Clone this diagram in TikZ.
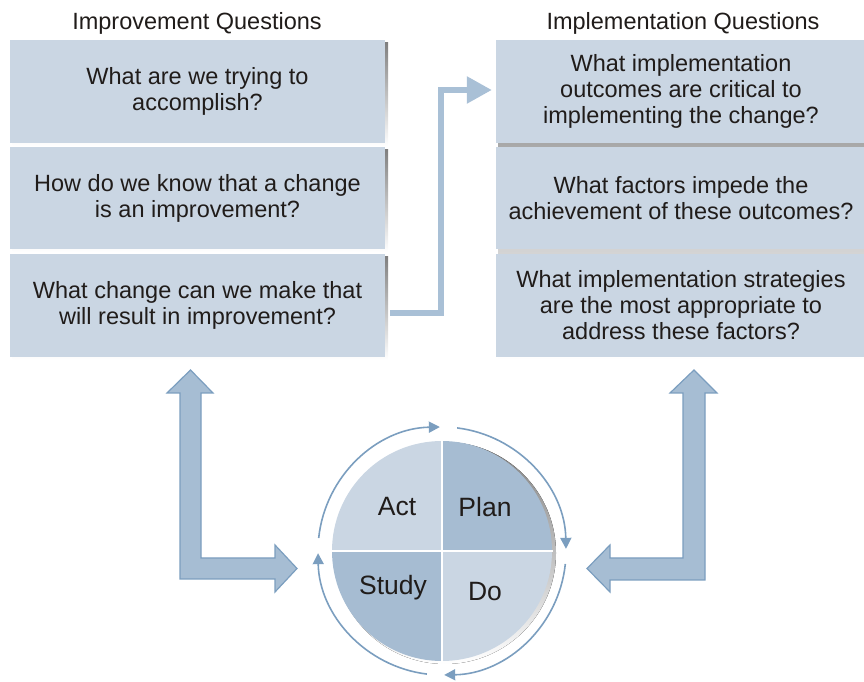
\documentclass[tikz,border=0pt]{standalone}
\usepackage{fontspec}
\setmainfont{Liberation Sans}
\usetikzlibrary{arrows.meta}
\definecolor{boxfill}{HTML}{CAD6E3}
\definecolor{darkfill}{HTML}{A6BCD2}
\definecolor{arrowfill}{HTML}{A6BDD3}
\definecolor{arrowedge}{HTML}{7B9EBF}
\definecolor{linkcol}{HTML}{A9C0D6}
\definecolor{shade}{HTML}{E6E9EE}
\definecolor{ink}{HTML}{201C1A}
\begin{document}
\begin{tikzpicture}[x=1pt,y=1pt,
  qbox/.style={fill=boxfill, minimum height=102pt, inner sep=0pt, align=center,
    text=ink, font=\fontsize{23.5}{26}\selectfont},
  lbox/.style={qbox, minimum width=375pt},
  rbox/.style={qbox, minimum width=370pt},
  title/.style={text=ink, font=\fontsize{23.5}{26}\selectfont},
  phase/.style={text=ink, font=\fontsize{26.5}{28}\selectfont},
  blockarrow/.style={fill=arrowfill, draw=arrowedge, line width=1.2pt, line join=miter},
  link/.style={draw=linkcol, line width=5.5pt, -{Triangle[length=25pt,width=26pt]}},
  cycle arc/.style={draw=arrowedge, line width=1.6pt, -{Triangle[length=11pt,width=11pt]}}]
\useasboundingbox (0,0) rectangle (864,682);

% column headings
\node[title] (ltitle) at (197,659) {Improvement Questions};
\node[title] (rtitle) at (683,659) {Implementation Questions};

% faint drop shadows behind the question boxes
\foreach \yy/\hh in {590.5/103, 484/102, 376.5/103} {
  \fill[shade] (12.5,\yy-\hh/2-2.5) rectangle (388,\yy+\hh/2-2.5);
}
\fill[shade] (498.5,325-2.5) rectangle (866,642-2.5);

% improvement questions
\node[lbox, minimum height=103pt] (L1) at (197.5,590.5) {What are we trying to\\accomplish?};
\node[lbox] (L2) at (197.5,484) {How do we know that a change\\is an improvement?};
\node[lbox, minimum height=103pt] (L3) at (197.5,376.5) {What change can we make that\\will result in improvement?};

% implementation questions
\node[rbox, minimum height=103pt] (R1) at (681,590.5) {What implementation\\outcomes are critical to\\implementing the change?};
\node[rbox] (R2) at (681,484) {What factors impede the\\achievement of these outcomes?};
\node[rbox, minimum height=103pt] (R3) at (681,376.5) {What implementation strategies\\are the most appropriate to\\address these factors?};

% link from the change question to the implementation outcomes
\draw[link] ([xshift=5pt,yshift=-7.5pt]L3.east) -| ([xshift=-55pt,yshift=1.5pt]R1.west)
  -- ([xshift=-4pt,yshift=1.5pt]R1.west);

% PDSA wheel
\coordinate (c) at (442,131);
\fill[shade] (445,129) circle[radius=111];
\fill[boxfill] (c) -- ++(90:110) arc[start angle=90,end angle=180,radius=110] -- cycle;
\fill[darkfill] (c) -- ++(0:110) arc[start angle=0,end angle=90,radius=110] -- cycle;
\fill[darkfill] (c) -- ++(180:110) arc[start angle=180,end angle=270,radius=110] -- cycle;
\fill[boxfill] (c) -- ++(270:110) arc[start angle=270,end angle=360,radius=110] -- cycle;
\draw[white, line width=2pt] ([xshift=-111pt]c) -- ([xshift=111pt]c);
\draw[white, line width=2pt] ([yshift=-111pt]c) -- ([yshift=111pt]c);

\node[phase] (act) at (397,175) {Act};
\node[phase] (plan) at (485,175) {Plan};
\node[phase] (study) at (393,94) {Study};
\node[phase] (do) at (485,90) {Do};

% clockwise cycle arrows around the wheel
\draw[cycle arc] (c) ++(174:124) arc[start angle=174,end angle=91,radius=124];
\draw[cycle arc] (c) ++(83:124) arc[start angle=83,end angle=1,radius=124];
\draw[cycle arc] (c) ++(-6:124) arc[start angle=-6,end angle=-89,radius=124];
\draw[cycle arc] (c) ++(-97:124) arc[start angle=-97,end angle=-179,radius=124];

% block arrows joining the question sets with the wheel
\draw[blockarrow] (190.5,312) -- (213,289) -- (201,289) -- (201,124) -- (275,124)
  -- (275,137) -- (297,113.5) -- (275,90) -- (275,103) -- (180,103) -- (180,289)
  -- (167,289) -- cycle;
\draw[blockarrow] (694,312) -- (717,289) -- (705,289) -- (705,102) -- (610,102)
  -- (610,90) -- (587,113.5) -- (610,137) -- (610,124) -- (683,124) -- (683,289)
  -- (670,289) -- cycle;
\end{tikzpicture}
\end{document}
